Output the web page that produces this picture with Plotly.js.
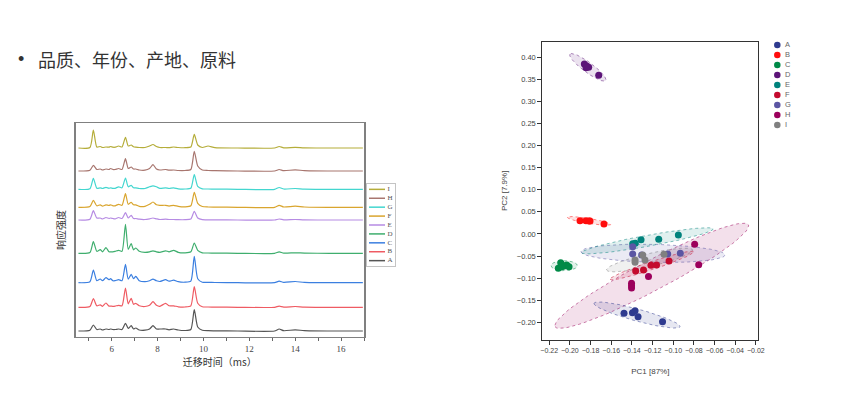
<!DOCTYPE html>
<html><head><meta charset="utf-8">
<script src="https://cdn.plot.ly/plotly-3.0.1.min.js"></script>
<style>html,body{margin:0;padding:0;background:#fff;}</style>
</head><body>
<div id="chart" style="width:846px;height:394px;"></div>
<script>
// ---------- Left chart: stacked ion-mobility spectra ----------
const seriesNames = ['A','B','C','D','E','F','G','H','I'];
const driftTime = [4.55,5.05,5.2,5.35,5.5,5.6,5.75,5.88,5.95,6.05,
  6.15,6.3,6.45,6.6,6.72,6.85,6.95,7.05,7.2,7.45,
  7.65,7.8,7.95,8.1,8.35,8.5,8.7,8.9,9.2,9.45,
  9.6,9.75,9.95,10.2,10.5,11.5,13.1,13.3,13.5,14.0,
  14.4,15.5,16.95];
const intensityA = [0,0.8,6,1.5,2,1,2,1.5,2,1.5, 1.5,2,1.5,7.7,2.5,5.3,2,3,1,0.8, 2,5.3,2,2,2,1.2,2,1,0.5,1.5, 21.3,4,0.8,0.3,0.2,0,0,2,0.3,1.2, 0.3,0,0];
const intensityB = [0,0.8,8.7,1.5,2.5,1,4.3,1.2,1.2,1, 1.2,2,1.5,19.3,3.5,9,3,4,1.5,0.8, 2,5.7,2,1,4,1.5,1.5,0.5,0.3,1.5, 20.7,4,0.5,0.3,0.2,0,0,1.2,0.2,0.8, 0.2,0,0];
const intensityC = [0,1,12.7,2,3.7,2,5,3,4,2, 2,3,2,18.3,3.5,8.3,4,6.3,2,1, 2,3.5,2,1.2,3,1.5,2.5,1,0.5,1.5, 26.3,4,0.5,0.3,0.2,0,0,1.5,0.3,1.2, 0.3,0,0];
const intensityD = [0,0.8,11.7,2,3.7,1.5,5.7,1.5,1.5,1.5, 2,3,2,29,4,9.7,3.5,5.3,2,1, 1.5,2.5,1.5,1,2.5,1.5,3,1,0.5,1.5, 10.3,3,0.5,0.3,0.2,0,0,1.5,0.2,0.5, 0.2,0,0];
const intensityE = [0,0.8,9.3,2,2,1,2.5,1.5,2,1.5, 1.2,2.5,1.5,7.3,2,4.7,1.5,1.5,0.8,0.5, 1.2,2,1.2,0.5,0.8,0.5,0.5,0.3,0.3,1, 8.7,2,0.3,0.2,0.1,0,0,1,0.2,0.5, 0.1,0,0];
const intensityF = [0,0.8,7,1.5,2.5,1.2,2.5,1.8,2.5,1.5, 1.5,3,2,13.7,3,5,2.5,2.5,1,1, 3,5.3,2.5,2,2,1.2,2,1,0.5,1.5, 15,4,0.8,0.3,0.2,0,0,2,0.3,1.2, 0.3,0,0];
const intensityG = [0,0.5,11,1,1.5,0.8,2,1,1.5,1, 1,2.5,1.5,11.3,2.5,4,1.5,1.5,0.8,0.8, 2.5,3.5,2.5,1,1.5,0.8,1.5,0.5,0.3,1, 14.7,3,0.5,0.3,0.2,0,0,1.8,0.3,0.8, 0.2,0,0];
const intensityH = [0,0.8,5.7,1.5,2,1,2,1.5,2.5,1.5, 1.5,2.5,1.5,12.3,2.5,4,2,2,1,0.8, 2.5,6.3,2,1,1.5,0.8,1,0.5,0.5,1.5, 19.7,5,1,0.5,0.3,0,0,1.5,0.3,1.2, 0.3,0,0];
const intensityI = [0,0.5,18,1,1.5,0.5,1,0.8,1.5,0.8, 0.8,2,1,10.7,2,3,1.2,0.8,0.5,0.5, 2,3.5,1.5,0.5,0.5,0.3,1,0.5,0.3,1, 13.7,3,0.5,2,0.3,0,0,1.5,0.2,0.7, 0.2,0,0];
const stackOffsets = [5.7,29.4,54,83.4,116.7,129.4,147.4,165.7,188.7];
const lineColors = ['#555555','#ef5b63','#3b7fe0','#3fae6e','#b68be3','#d9a52e','#43d6cf','#a8766f','#b5ad3a'];
const intensities = [intensityA,intensityB,intensityC,intensityD,intensityE,intensityF,intensityG,intensityH,intensityI];

// ---------- Right chart: PCA scores ----------
const groups = ['A','B','C','D','E','F','G','H','I'];
const groupColors = ['#2e3a8f','#ff0d0d','#008a47','#5c1478','#00827c','#c40a2e','#5b55a3','#9c005c','#808080'];
const pc1A = [-0.1476,-0.1394,-0.1369,-0.1340,-0.1103];
const pc2A = [-0.1794,-0.1780,-0.1735,-0.1871,-0.1984];
const pc1B = [-0.1902,-0.1844,-0.1815,-0.1805,-0.1670];
const pc2B = [0.030,0.030,0.029,0.029,0.0226];
const pc1C = [-0.2089,-0.2112,-0.2057,-0.2031,-0.2008,-0.2079];
const pc2C = [-0.0649,-0.0776,-0.0724,-0.0701,-0.0740,-0.0740];
const pc1D = [-0.1860,-0.1837,-0.1818,-0.1844,-0.1721];
const pc2D = [0.384,0.380,0.377,0.376,0.359];
const pc1E = [-0.1392,-0.1367,-0.1311,-0.1140,-0.0950];
const pc2E = [-0.0219,-0.0211,-0.0129,-0.0120,-0.0023];
const pc1F = [-0.1363,-0.1287,-0.1215,-0.1161,-0.1040];
const pc2F = [-0.0837,-0.0814,-0.0708,-0.0701,-0.0611];
const pc1G = [-0.1392,-0.1392,-0.1305,-0.1053,-0.0931];
const pc2G = [-0.0287,-0.0452,-0.0475,-0.0452,-0.0437];
const pc1H = [-0.1403,-0.1403,-0.1403,-0.1239,-0.0792,-0.0753];
const pc2H = [-0.1115,-0.1170,-0.1222,-0.0962,-0.0233,-0.0695];
const pc1I = [-0.1369,-0.1369,-0.1295,-0.1273,-0.1089];
const pc2I = [-0.0640,-0.0590,-0.0475,-0.0588,-0.0460];
const pc1 = [pc1A,pc1B,pc1C,pc1D,pc1E,pc1F,pc1G,pc1H,pc1I];
const pc2 = [pc2A,pc2B,pc2C,pc2D,pc2E,pc2F,pc2G,pc2H,pc2I];
// confidence ellipses: centre, end of major axis, minor half-width (px)
const ellCx = [-0.1350,-0.1815,-0.2055,-0.1826,-0.1249,-0.1205,-0.1195,-0.1208,-0.1228];
const ellCy = [-0.1833,0.0294,-0.0717,0.3767,-0.0155,-0.0713,-0.0438,-0.0946,-0.0588];
const ellEx = [-0.1766,-0.2025,-0.2182,-0.1999,-0.1885,-0.1611,-0.1892,-0.2144,-0.1644];
const ellEy = [-0.1568,0.0377,-0.0717,0.4066,-0.0423,-0.1025,-0.0400,-0.2097,-0.0814];
const ellW  = [6,2.5,5,5,5.5,4,9,15,6.5];
const ellDrawOrder = [7,8,6,4,5,0,1,2,3];

const W = 846, H = 394;
const x1dom = [75.7/W, 364/W], y1dom = [1-336.7/H, 1-123.3/H];
const x2dom = [542.3/W, 758.3/W], y2dom = [1-340/H, 1-41.7/H];
const x2range = [-0.2267,-0.0176], y2range = [-0.2398,0.4347];
const x3dom = [367/W, 395/W], y3dom = [1-266/H, 1-184/H];
const x4dom = [770/W, 806/W], y4dom = [1-130/H, 1-40/H];

function rgba(hex, a){
  const n = parseInt(hex.slice(1),16);
  return 'rgba('+((n>>16)&255)+','+((n>>8)&255)+','+(n&255)+','+a+')';
}

const traces = [];
// spectra
for (let i = 0; i < seriesNames.length; i++) {
  traces.push({
    type:'scatter', mode:'lines', name:seriesNames[i],
    x: driftTime, y: intensities[i].map(v => v + stackOffsets[i]),
    line:{color:lineColors[i], width:1.2, shape:'spline', smoothing:0.6},
    xaxis:'x', yaxis:'y', showlegend:false, hoverinfo:'x+name'
  });
}
// left legend (I on top)
for (let i = 0; i < seriesNames.length; i++) {
  const k = seriesNames.length - 1 - i;
  traces.push({type:'scatter', mode:'lines', x:[2,18], y:[k,k],
    line:{color:lineColors[i], width:1.5}, xaxis:'x3', yaxis:'y3', showlegend:false, hoverinfo:'skip'});
}
traces.push({type:'scatter', mode:'text', x:seriesNames.map(()=>20.5),
  y:seriesNames.map((_,i)=>seriesNames.length-1-i), text:seriesNames,
  textposition:'middle right', textfont:{family:'Liberation Serif', size:7, color:'#555'},
  xaxis:'x3', yaxis:'y3', showlegend:false, hoverinfo:'skip'});

// ellipses
const sx = (x2dom[1]-x2dom[0])*W/(x2range[1]-x2range[0]);
const sy = (y2dom[1]-y2dom[0])*H/(y2range[1]-y2range[0]);
function ellipse(cx,cy,ex,ey,w){
  const ux=(ex-cx)*sx, uy=(ey-cy)*sy, a=Math.hypot(ux,uy);
  const vx=-uy/a*w, vy=ux/a*w;
  const xs=[], ys=[];
  for (let j=0;j<=96;j++){
    const t=2*Math.PI*j/96, c=Math.cos(t), s=Math.sin(t);
    xs.push(cx+(ux*c+vx*s)/sx); ys.push(cy+(uy*c+vy*s)/sy);
  }
  return [xs,ys];
}
for (const g of ellDrawOrder) {
  const [xs,ys] = ellipse(ellCx[g],ellCy[g],ellEx[g],ellEy[g],ellW[g]);
  traces.push({type:'scatter', mode:'lines', x:xs, y:ys, fill:'toself',
    fillcolor:rgba(groupColors[g],0.12), line:{color:rgba(groupColors[g],0.5), width:1, dash:'dot'},
    xaxis:'x2', yaxis:'y2', showlegend:false, hoverinfo:'skip'});
}
// points
for (let g = 0; g < groups.length; g++) {
  traces.push({type:'scatter', mode:'markers', name:groups[g], x:pc1[g], y:pc2[g],
    marker:{color:groupColors[g], size:7}, xaxis:'x2', yaxis:'y2', showlegend:false});
}
// right legend
traces.push({type:'scatter', mode:'markers', x:groups.map(()=>7.3), y:groups.map((_,i)=>i),
  marker:{color:groupColors, size:6.5}, xaxis:'x4', yaxis:'y4', showlegend:false, hoverinfo:'skip'});
traces.push({type:'scatter', mode:'text', x:groups.map(()=>15), y:groups.map((_,i)=>i), text:groups,
  textposition:'middle right', textfont:{family:'Liberation Sans', size:7.5, color:'#666'},
  xaxis:'x4', yaxis:'y4', showlegend:false, hoverinfo:'skip'});

const hidden = {showline:false, showticklabels:false, ticks:'', showgrid:false, zeroline:false, fixedrange:true};
const layout = {
  width:W, height:H, margin:{l:0,r:0,t:0,b:0},
  paper_bgcolor:'#fff', plot_bgcolor:'#fff', showlegend:false,
  xaxis:{domain:x1dom, range:[4.43,17.0], anchor:'y', dtick:2, tick0:0, tickangle:0, ticks:'outside', ticklen:3, tickcolor:'#666',
    minor:{dtick:1, tick0:0, ticks:'outside', ticklen:3, tickcolor:'#666'},
    showline:true, mirror:true, linecolor:'#808080', linewidth:1.5, showgrid:false, zeroline:false,
    tickfont:{family:'Liberation Serif', size:9, color:'#444'},
    title:{text:'迁移时间（ms）', font:{family:'Noto Sans CJK SC', size:10, color:'#333'}, standoff:3}},
  yaxis:{domain:y1dom, range:[0,213.4], anchor:'x', showticklabels:false, ticks:'', showline:true, mirror:true,
    linecolor:'#808080', linewidth:1.5, showgrid:false, zeroline:false,
    title:{text:'响应强度', font:{family:'Noto Sans CJK SC', size:10, color:'#333'}, standoff:6}},
  xaxis2:{domain:x2dom, range:x2range, anchor:'y2', dtick:0.02, tick0:0, tickformat:'.2f', tickangle:0, ticks:'outside', ticklen:4,
    tickcolor:'#333', showline:true, mirror:true, linecolor:'#333', linewidth:1, showgrid:false, zeroline:false,
    tickfont:{family:'Liberation Sans', size:7, color:'#444'},
    title:{text:'PC1 [87%]', font:{family:'Liberation Sans', size:8, color:'#444'}, standoff:14}},
  yaxis2:{domain:y2dom, range:y2range, anchor:'x2', dtick:0.05, tick0:0, tickformat:'.2f', tickangle:0, ticks:'outside', ticklen:4,
    tickcolor:'#333', showline:true, mirror:true, linecolor:'#333', linewidth:1, showgrid:false, zeroline:false,
    tickfont:{family:'Liberation Sans', size:7.5, color:'#444'},
    title:{text:'PC2 [7.9%]', font:{family:'Liberation Sans', size:8, color:'#444'}, standoff:8}},
  xaxis3:Object.assign({}, hidden, {domain:x3dom, range:[0,28], anchor:'y3', showline:true, mirror:true, linecolor:'#c4c4c4', linewidth:1}),
  yaxis3:Object.assign({}, hidden, {domain:y3dom, range:[8.6,-0.6], anchor:'x3', showline:true, mirror:true, linecolor:'#c4c4c4', linewidth:1}),
  xaxis4:Object.assign({}, hidden, {domain:x4dom, range:[0,36], anchor:'y4'}),
  yaxis4:Object.assign({}, hidden, {domain:y4dom, range:[8.5,-0.5], anchor:'x4'}),
  annotations:[
    {xref:'paper', yref:'paper', x:21/W, y:1-59/H, xanchor:'center', yanchor:'middle', showarrow:false,
     text:'•', font:{family:'Liberation Sans', size:18, color:'#333'}},
    {xref:'paper', yref:'paper', x:35.5/W, y:1-59/H, xanchor:'left', yanchor:'middle', showarrow:false,
     text:'品质、年份、产地、原料', font:{family:'Noto Sans CJK SC', size:18, color:'#333'}}
  ]
};
Plotly.newPlot('chart', traces, layout, {staticPlot:true, displayModeBar:false});
</script>
</body></html>
